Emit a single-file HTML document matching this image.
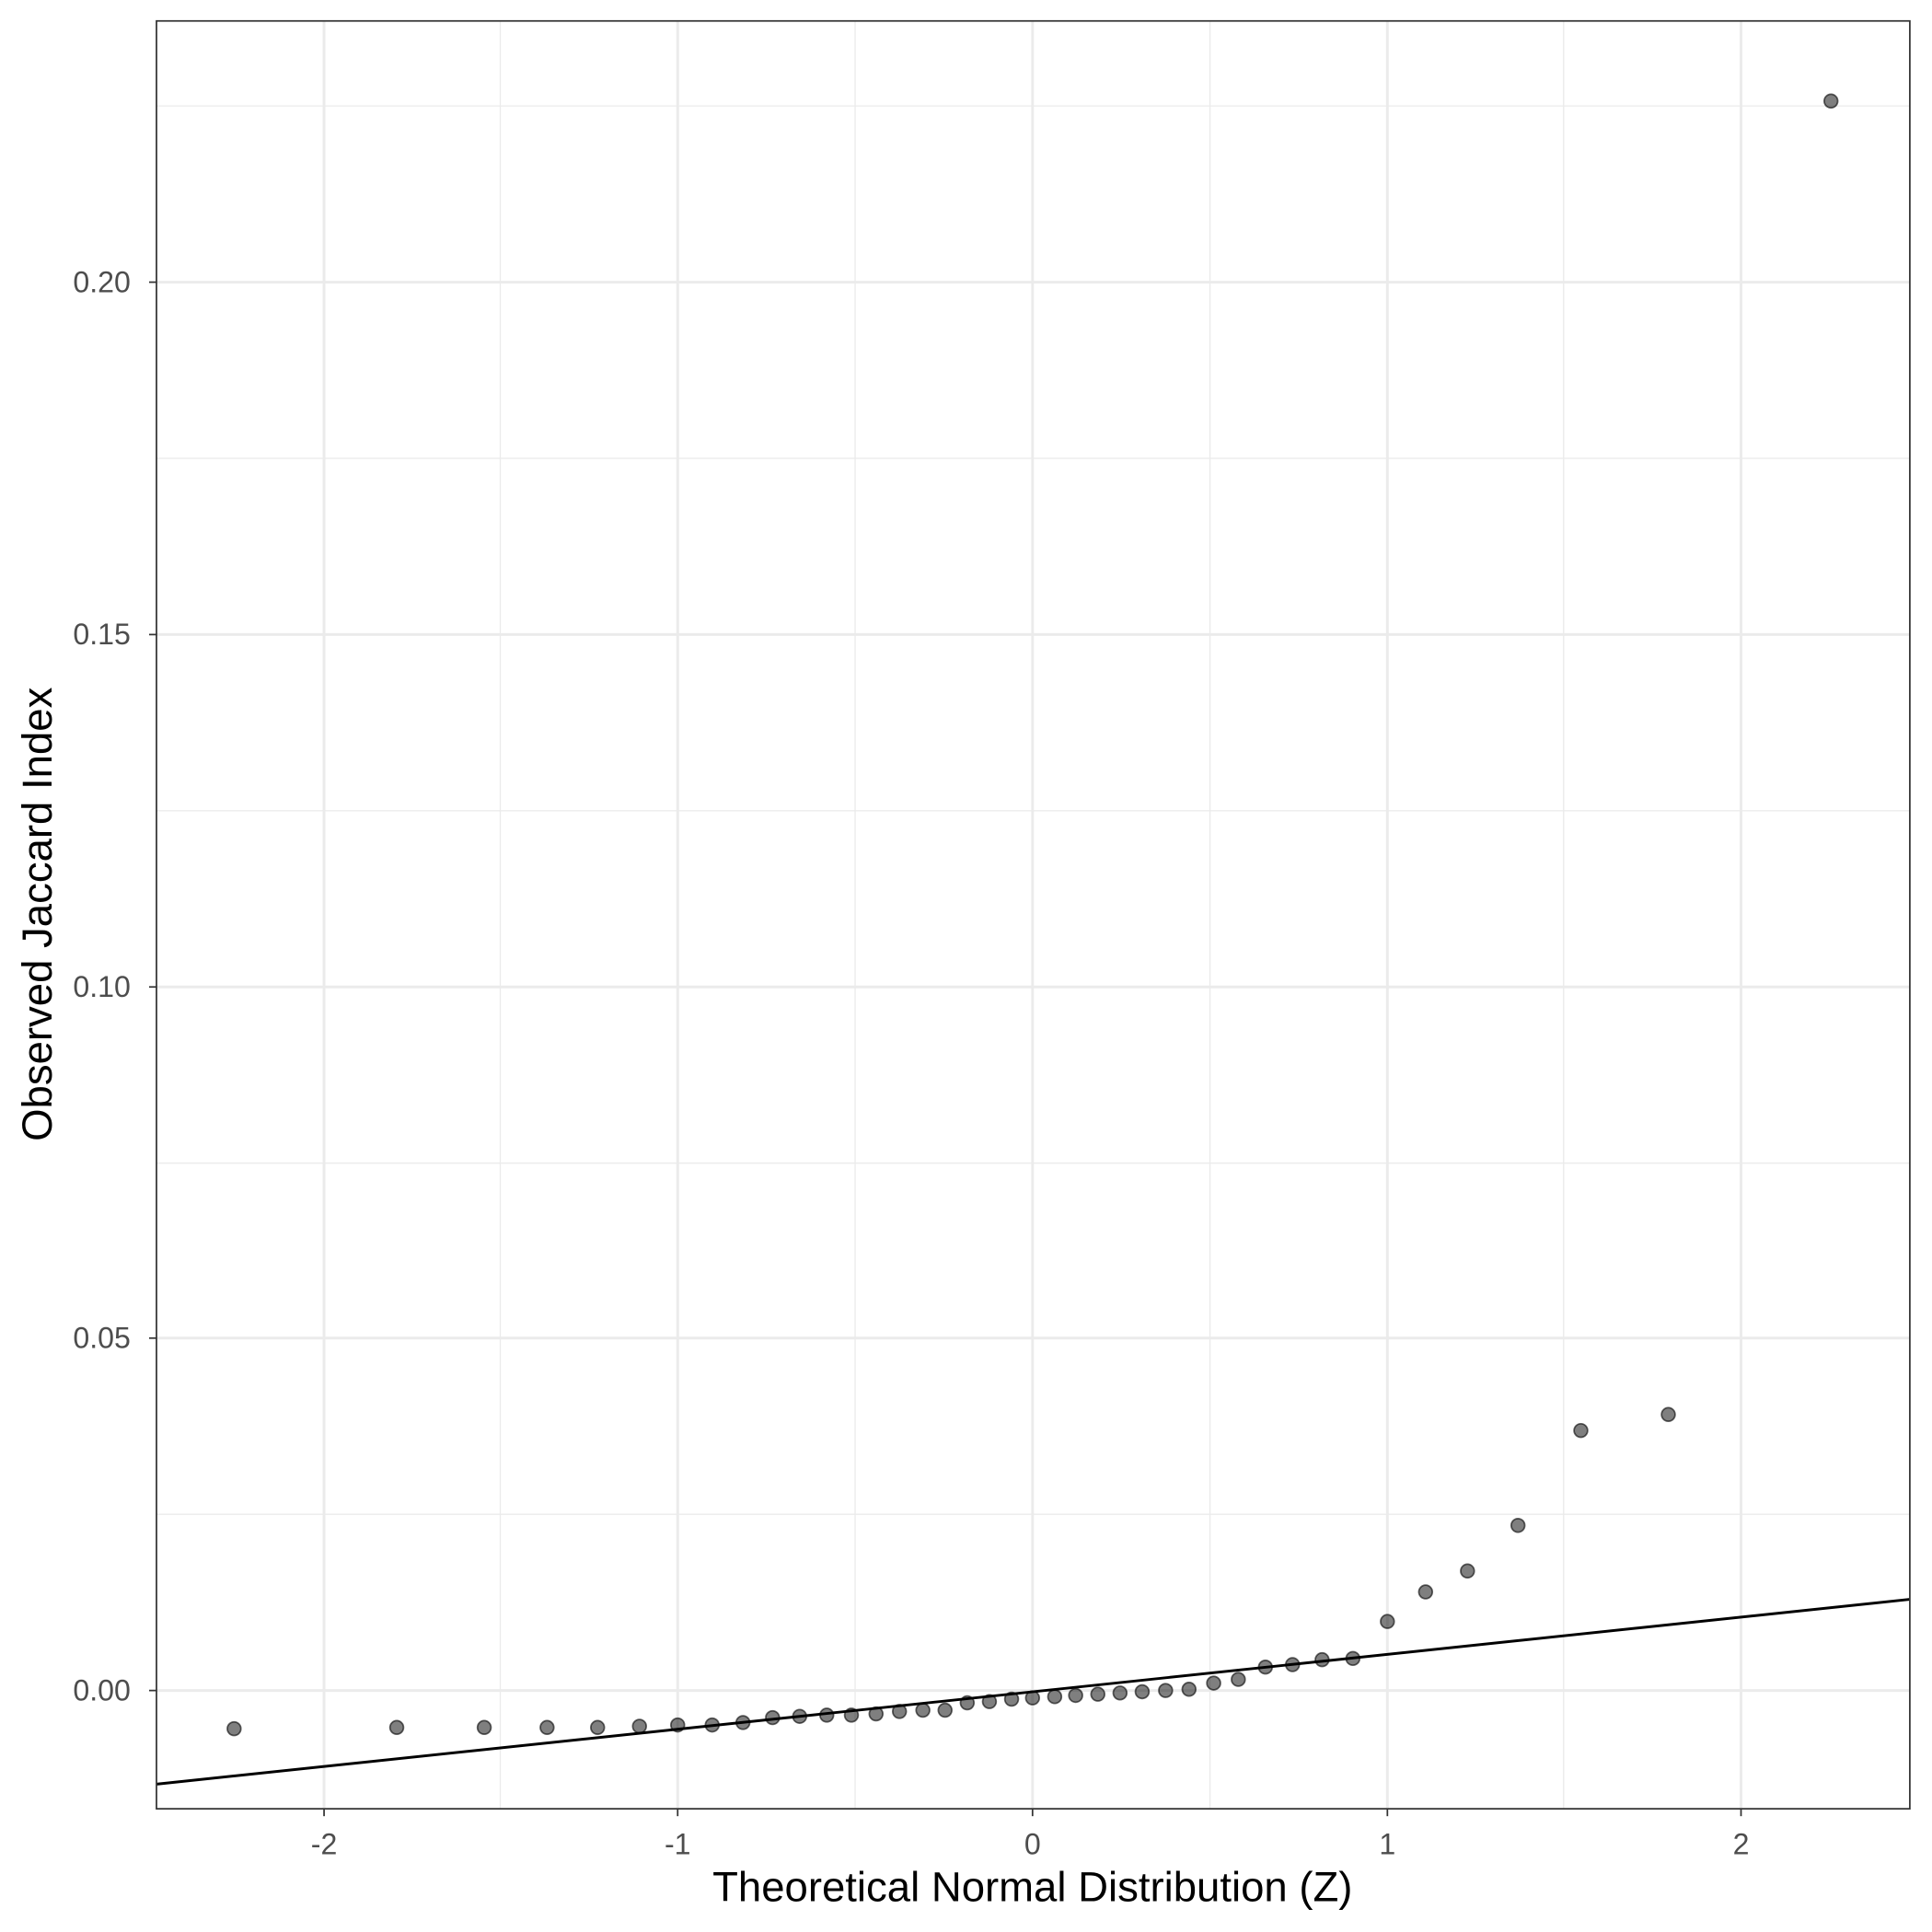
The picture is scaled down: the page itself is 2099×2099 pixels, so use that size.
<!DOCTYPE html>
<html><head><meta charset="utf-8"><style>html,body{margin:0;padding:0;background:#fff}svg{display:block}</style></head>
<body>
<svg width="2099" height="2099" viewBox="0 0 1568 1568" xmlns="http://www.w3.org/2000/svg" font-family="Liberation Sans, sans-serif">
<rect width="1568" height="1568" fill="#fff"/>
<g stroke="#ebebeb" stroke-width="1">
<line x1="406" y1="17" x2="406" y2="1468"/><line x1="694" y1="17" x2="694" y2="1468"/><line x1="982" y1="17" x2="982" y2="1468"/><line x1="1269" y1="17" x2="1269" y2="1468"/>
<line x1="127" y1="1229" x2="1550" y2="1229"/><line x1="127" y1="944" x2="1550" y2="944"/><line x1="127" y1="658" x2="1550" y2="658"/><line x1="127" y1="372" x2="1550" y2="372"/><line x1="127" y1="86" x2="1550" y2="86"/>
</g>
<g stroke="#ebebeb" stroke-width="2.2">
<line x1="263" y1="17" x2="263" y2="1468"/><line x1="550" y1="17" x2="550" y2="1468"/><line x1="838" y1="17" x2="838" y2="1468"/><line x1="1126" y1="17" x2="1126" y2="1468"/><line x1="1413" y1="17" x2="1413" y2="1468"/>
<line x1="127" y1="1372" x2="1550" y2="1372"/><line x1="127" y1="1086" x2="1550" y2="1086"/><line x1="127" y1="801" x2="1550" y2="801"/><line x1="127" y1="515" x2="1550" y2="515"/><line x1="127" y1="229" x2="1550" y2="229"/>
</g>
<line x1="127" y1="1448" x2="1550" y2="1298" stroke="#000" stroke-width="2.2"/>
<g fill="#000" fill-opacity="0.5" stroke="#000" stroke-opacity="0.6" stroke-width="1.3">
<circle cx="190" cy="1403" r="5.5"/><circle cx="322" cy="1402" r="5.5"/><circle cx="393" cy="1402" r="5.5"/><circle cx="444" cy="1402" r="5.5"/><circle cx="485" cy="1402" r="5.5"/><circle cx="519" cy="1401" r="5.5"/><circle cx="550" cy="1400" r="5.5"/><circle cx="578" cy="1400" r="5.5"/><circle cx="603" cy="1398" r="5.5"/><circle cx="627" cy="1394" r="5.5"/><circle cx="649" cy="1393" r="5.5"/><circle cx="671" cy="1392" r="5.5"/><circle cx="691" cy="1392" r="5.5"/><circle cx="711" cy="1391" r="5.5"/><circle cx="730" cy="1389" r="5.5"/><circle cx="749" cy="1388" r="5.5"/><circle cx="767" cy="1388" r="5.5"/><circle cx="785" cy="1382" r="5.5"/><circle cx="803" cy="1381" r="5.5"/><circle cx="821" cy="1379" r="5.5"/><circle cx="838" cy="1378" r="5.5"/><circle cx="856" cy="1377" r="5.5"/><circle cx="873" cy="1376" r="5.5"/><circle cx="891" cy="1375" r="5.5"/><circle cx="909" cy="1374" r="5.5"/><circle cx="927" cy="1373" r="5.5"/><circle cx="946" cy="1372" r="5.5"/><circle cx="965" cy="1371" r="5.5"/><circle cx="985" cy="1366" r="5.5"/><circle cx="1005" cy="1363" r="5.5"/><circle cx="1027" cy="1353" r="5.5"/><circle cx="1049" cy="1351" r="5.5"/><circle cx="1073" cy="1347" r="5.5"/><circle cx="1098" cy="1346" r="5.5"/><circle cx="1126" cy="1316" r="5.5"/><circle cx="1157" cy="1292" r="5.5"/><circle cx="1191" cy="1275" r="5.5"/><circle cx="1232" cy="1238" r="5.5"/><circle cx="1283" cy="1161" r="5.5"/><circle cx="1354" cy="1148" r="5.5"/><circle cx="1486" cy="82" r="5.5"/>
</g>
<rect x="127" y="17" width="1423" height="1451" fill="none" stroke="#333" stroke-width="1.3"/>
<g stroke="#333" stroke-width="1.3">
<line x1="121" y1="1372" x2="127" y2="1372"/><line x1="121" y1="1086" x2="127" y2="1086"/><line x1="121" y1="801" x2="127" y2="801"/><line x1="121" y1="515" x2="127" y2="515"/><line x1="121" y1="229" x2="127" y2="229"/>
<line x1="263" y1="1468" x2="263" y2="1474"/><line x1="550" y1="1468" x2="550" y2="1474"/><line x1="838" y1="1468" x2="838" y2="1474"/><line x1="1126" y1="1468" x2="1126" y2="1474"/><line x1="1413" y1="1468" x2="1413" y2="1474"/>
</g>
<g fill="#4d4d4d" font-size="24" text-anchor="end">
<text x="106" y="1380">0.00</text><text x="106" y="1094">0.05</text><text x="106" y="809">0.10</text><text x="106" y="523">0.15</text><text x="106" y="237">0.20</text>
</g>
<g fill="#4d4d4d" font-size="24" text-anchor="middle">
<text x="263" y="1505">-2</text><text x="550" y="1505">-1</text><text x="838" y="1505">0</text><text x="1126" y="1505">1</text><text x="1413" y="1505">2</text>
</g>
<text x="838" y="1543" font-size="34" text-anchor="middle" fill="#000">Theoretical Normal Distribution (Z)</text>
<text transform="translate(42,742) rotate(-90)" font-size="34" text-anchor="middle" fill="#000">Observed Jaccard Index</text>
</svg>
</body></html>
